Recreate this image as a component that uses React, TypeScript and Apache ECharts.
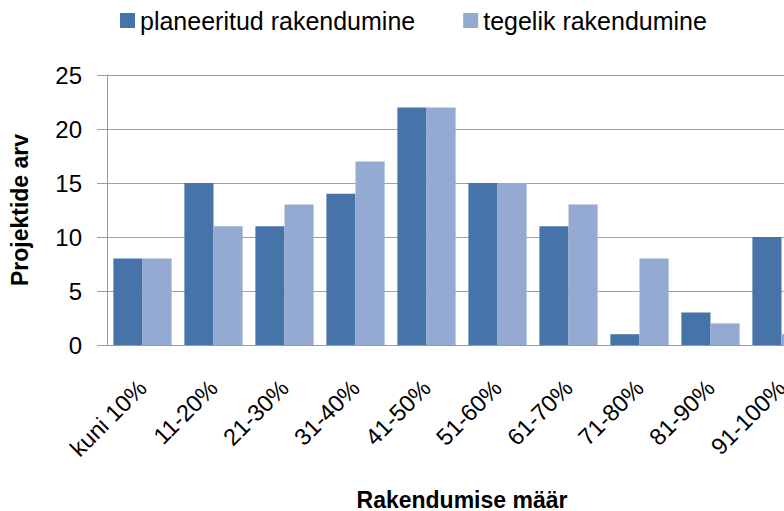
import React, { useEffect, useRef } from "react";
import * as echarts from "echarts";

const categories = ["kuni 10%", "11-20%", "21-30%", "31-40%", "41-50%", "51-60%", "61-70%", "71-80%", "81-90%", "91-100%"];
const planned = [8, 15, 11, 14, 22, 15, 11, 1, 3, 10];
const actual = [8, 11, 13, 17, 22, 15, 13, 8, 2, 1];
const seriesNames = ["planeeritud rakendumine", "tegelik rakendumine"];

const FONT = "'Liberation Sans', Arial, sans-serif";

export default function App() {
  const ref = useRef<HTMLDivElement>(null);
  useEffect(() => {
    if (!ref.current) return;
    const chart = echarts.init(ref.current, null, { renderer: "svg" });
    chart.setOption({
      animation: false,
      textStyle: { fontFamily: FONT },
      legend: {
        top: 8,
        left: 120,
        padding: 0,
        itemWidth: 15,
        itemHeight: 15,
        itemGap: 48,
        icon: "rect",
        textStyle: { fontSize: 25, color: "#000", fontFamily: FONT },
        data: seriesNames,
      },
      grid: { left: 107, top: 75, bottom: 166, width: 710, outerBoundsMode: "none", containLabel: false },
      xAxis: {
        type: "category",
        data: categories,
        name: "Rakendumise määr",
        nameLocation: "middle",
        nameGap: 143,
        nameTextStyle: { fontSize: 23, fontWeight: "bold", color: "#000", fontFamily: FONT },
        axisLine: { lineStyle: { color: "#9a9a9a", width: 1 } },
        axisTick: { length: 7, lineStyle: { color: "#9a9a9a" } },
        axisLabel: { rotate: 45, margin: 39, fontSize: 23.5, color: "#000", fontFamily: FONT, interval: 0 },
      },
      yAxis: {
        type: "value",
        min: 0,
        max: 25,
        interval: 5,
        name: "Projektide arv",
        nameLocation: "middle",
        nameGap: 76,
        nameTextStyle: { fontSize: 23, fontWeight: "bold", color: "#000", fontFamily: FONT },
        axisLine: { show: true, lineStyle: { color: "#9a9a9a", width: 1 } },
        axisTick: { show: true, length: 10, lineStyle: { color: "#9a9a9a" } },
        axisLabel: { margin: 25, fontSize: 24, color: "#000", fontFamily: FONT },
        splitLine: { lineStyle: { color: "#a0a0a0", width: 1 } },
      },
      series: [
        {
          name: seriesNames[0],
          type: "bar",
          data: planned,
          barGap: "0%",
          barCategoryGap: "18%",
          itemStyle: { color: "#4673A8" },
        },
        {
          name: seriesNames[1],
          type: "bar",
          data: actual,
          barGap: "0%",
          barCategoryGap: "18%",
          itemStyle: { color: "#94AAD3" },
        },
      ],
    });
    return () => chart.dispose();
  }, []);
  return <div ref={ref} style={{ width: 784, height: 511, position: "absolute", left: 0, top: 0 }} />;
}
